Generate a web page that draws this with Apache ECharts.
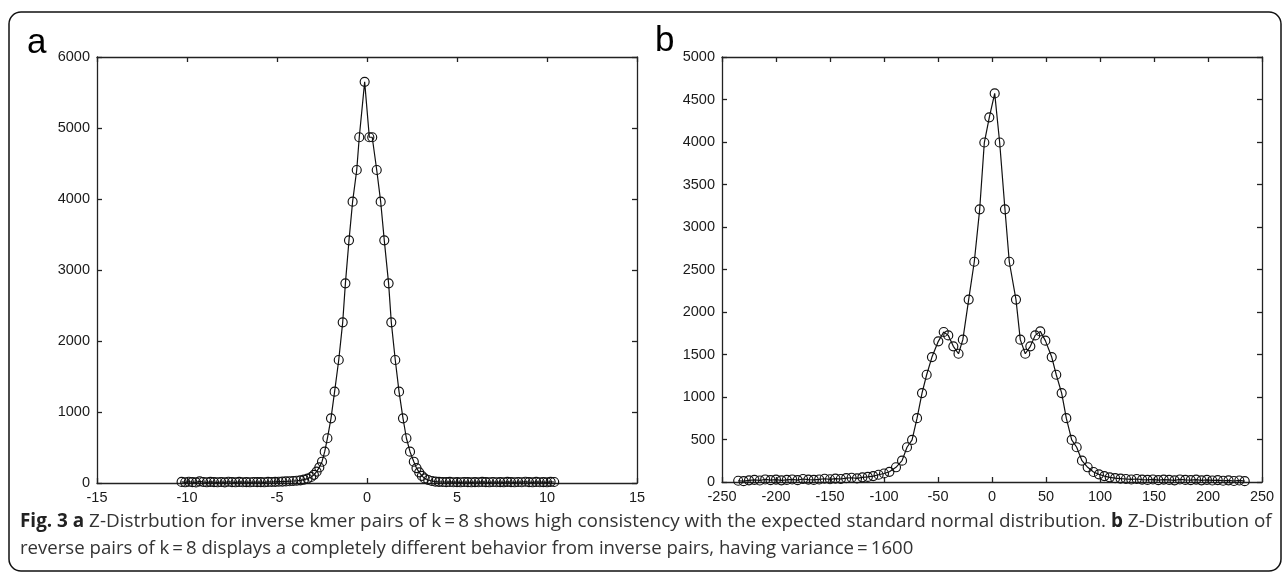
<!DOCTYPE html>
<html>
<head>
<meta charset="utf-8">
<script src="https://cdn.jsdelivr.net/npm/echarts@6/dist/echarts.min.js"></script>
<style>
html, body { margin: 0; padding: 0; background: #fff; }
#main { width: 1285px; height: 576px; }
</style>
</head>
<body>
<div id="main"></div>
<script>
// panel a: z-scores of inverse pairs
var aX = [-10.3, -10.1, -9.9, -9.7, -9.5, -9.3, -9.1, -8.9, -8.7, -8.5, -8.3, -8.1, -7.9, -7.7, -7.5, -7.3, -7.1, -6.9, -6.7, -6.5, -6.3, -6.1, -5.9, -5.7, -5.5, -5.3, -5.1, -4.9, -4.7, -4.5, -4.3, -4.1, -3.9, -3.7, -3.5, -3.3, -3.1, -2.95, -2.8, -2.65, -2.5, -2.35, -2.2, -2.0, -1.8, -1.57, -1.35, -1.2, -1.0, -0.8, -0.57, -0.43, -0.13, 0.13, 0.29, 0.54, 0.76, 0.96, 1.2, 1.35, 1.57, 1.78, 2.0, 2.19, 2.39, 2.6, 2.75, 2.9, 3.05, 3.2, 3.4, 3.6, 3.8, 4.0, 4.2, 4.4, 4.6, 4.8, 5.0, 5.2, 5.4, 5.6, 5.8, 6.0, 6.2, 6.4, 6.6, 6.8, 7.0, 7.2, 7.4, 7.6, 7.8, 8.0, 8.2, 8.4, 8.6, 8.8, 9.0, 9.2, 9.4, 9.6, 9.8, 10.0, 10.2, 10.4];
var aY = [15, 10, 18, 12, 8, 22, 14, 10, 16, 12, 10, 14, 9, 18, 12, 10, 15, 11, 13, 10, 14, 12, 13, 10, 15, 14, 16, 18, 20, 22, 25, 28, 32, 38, 48, 62, 85, 115, 160, 220, 300, 441, 630, 911, 1286, 1732, 2263, 2812, 3418, 3962, 4408, 4870, 5650, 4870, 4870, 4408, 3962, 3418, 2812, 2263, 1732, 1286, 911, 630, 441, 300, 210, 150, 100, 65, 42, 28, 20, 16, 14, 12, 15, 11, 13, 10, 14, 12, 10, 13, 11, 15, 12, 10, 14, 11, 13, 10, 16, 12, 10, 14, 11, 18, 12, 10, 15, 11, 13, 10, 16, 14];

// panel b: z-scores of reverse pairs
var bX = [-235, -230, -225, -220, -215, -210, -205, -200, -195, -190, -185, -180, -175, -170, -165, -160, -155, -150, -145, -140, -135, -130, -125, -120, -115, -110, -105, -100, -95, -88.9, -83.3, -78.7, -74, -69.4, -64.8, -60.5, -55.6, -49.7, -44.7, -40.5, -35.8, -31, -27, -21.6, -16.4, -11.4, -7.1, -2.5, 2.5, 7.1, 12, 16, 22.2, 26.2, 30.8, 35.5, 40, 44.7, 49.4, 55.3, 59.5, 64.5, 68.8, 73.8, 78.4, 83.3, 88.6, 94, 99, 104, 109, 114, 119, 124, 129, 134, 139, 144, 149, 154, 159, 164, 169, 174, 179, 184, 189, 194, 199, 204, 209, 214, 219, 224, 229, 234];
var bY = [15, 10, 20, 25, 18, 30, 22, 28, 20, 25, 30, 22, 35, 28, 25, 30, 38, 32, 40, 35, 45, 50, 42, 55, 60, 70, 85, 100, 120, 173, 251, 409, 495, 751, 1046, 1262, 1470, 1655, 1765, 1725, 1596, 1509, 1675, 2146, 2591, 3208, 3994, 4290, 4572, 3994, 3208, 2591, 2146, 1675, 1509, 1596, 1725, 1772, 1663, 1470, 1262, 1046, 751, 495, 409, 251, 173, 118, 90, 70, 55, 45, 40, 35, 30, 35, 28, 25, 30, 22, 28, 25, 20, 30, 25, 22, 28, 20, 25, 18, 22, 15, 20, 12, 18, 10];

var aTicksX = [-15, 15, 5];
var aTicksY = [0, 6000, 1000];
var bTicksX = [-250, 250, 50];
var bTicksY = [0, 5000, 500];

var captionLine1 = ['Fig. 3 a', ' Z-Distrbution for inverse kmer pairs of k\u2009=\u20098 shows high consistency with the expected standard normal distribution. ', 'b', ' Z-Distribution of'];
var captionLine2 = 'reverse pairs of k\u2009=\u20098 displays a completely different behavior from inverse pairs, having variance\u2009=\u20091600';

function pairs(xs, ys) {
  var out = [];
  for (var i = 0; i < xs.length; i++) out.push([xs[i], ys[i]]);
  return out;
}

var axisLineStyle = { color: '#222', width: 1.3 };
var labelStyle = { color: '#1a1a1a', fontFamily: 'Liberation Sans', fontSize: 14.5 };
function plain(v) { return String(v); }

function axis(grid, t, pos, labels) {
  return {
    type: 'value', gridIndex: grid, min: t[0], max: t[1], interval: t[2], position: pos,
    axisLine: { show: true, onZero: false, lineStyle: axisLineStyle },
    axisTick: { show: true, inside: true, length: 5, lineStyle: axisLineStyle },
    axisLabel: labels ? Object.assign({ formatter: plain, margin: 7 }, labelStyle) : { show: false },
    splitLine: { show: false }
  };
}

function lineSeries(idx, data) {
  return {
    type: 'line', xAxisIndex: idx, yAxisIndex: idx, data: data,
    symbol: 'circle', symbolSize: 9, showAllSymbol: true,
    lineStyle: { color: '#111', width: 1.2 },
    itemStyle: { color: 'rgba(0,0,0,0)', borderColor: '#111', borderWidth: 1.15 },
    emphasis: { disabled: true }, z: 3
  };
}

var chart = echarts.init(document.getElementById('main'));
chart.setOption({
  animation: false,
  backgroundColor: '#fff',
  grid: [
    { left: 97, top: 57, width: 540, height: 426 },
    { left: 722, top: 57, width: 540, height: 425 }
  ],
  xAxis: [
    axis(0, aTicksX, 'bottom', true), axis(0, aTicksX, 'top', false),
    axis(1, bTicksX, 'bottom', true), axis(1, bTicksX, 'top', false)
  ],
  yAxis: [
    axis(0, aTicksY, 'left', true), axis(0, aTicksY, 'right', false),
    axis(1, bTicksY, 'left', true), axis(1, bTicksY, 'right', false)
  ],
  series: [
    lineSeries(0, pairs(aX, aY)),
    lineSeries(2, pairs(bX, bY))
  ],
  graphic: [
    { type: 'rect', shape: { x: 9, y: 12, width: 1272, height: 559, r: 12 },
      style: { fill: 'none', stroke: '#111', lineWidth: 1.5 }, silent: true },
    { type: 'text', left: 27, top: 26, style: { text: 'a', font: '35px "Liberation Sans"', fill: '#000' } },
    { type: 'text', left: 655, top: 24, style: { text: 'b', font: '35px "Liberation Sans"', fill: '#000' } },
    { type: 'text', left: 20, top: 512, style: {
        text: '{b|' + captionLine1[0] + '}{n|' + captionLine1[1] + '}{b|' + captionLine1[2] + '}{n|' + captionLine1[3] + '}',
        rich: {
          b: { font: 'bold 18.9px "Open Sans"', fill: '#222' },
          n: { font: '18.9px "Open Sans"', fill: '#333' }
        } } },
    { type: 'text', left: 20, top: 539, style: { text: captionLine2, font: '18.6px "Open Sans"', fill: '#333' } }
  ]
});
window.onresize = chart.resize;
</script>
</body>
</html>
